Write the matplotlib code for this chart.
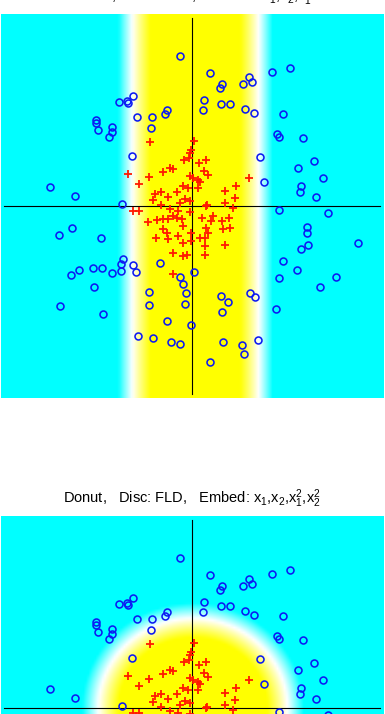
import numpy as np
import matplotlib
matplotlib.use("Agg")
import matplotlib.pyplot as plt
from matplotlib.colors import LinearSegmentedColormap

plt.rcParams['font.family'] = ['Liberation Sans', 'DejaVu Sans']
plt.rcParams['mathtext.fontset'] = 'custom'
plt.rcParams['mathtext.rm'] = 'Liberation Sans'
plt.rcParams['mathtext.it'] = 'Liberation Sans'
plt.rcParams['mathtext.bf'] = 'Liberation Sans:bold'

# ---- data: outer ring class (blue circles) ----
circ_x = [-0.12, -0.59, -0.65, -0.73, -0.64, -0.55, -0.40, -0.27, -0.25, -0.41,
          -0.96, -0.96, -0.94, -0.80, -0.80, -0.83, -0.60, -1.42, -1.17, 0.18,
          0.30, 0.28, 0.51, 0.57, 0.60, 0.80, 0.98, 0.12, 0.11, 0.29,
          0.38, 0.53, 0.62, 0.91, 0.85, 0.87, 1.11, 0.68, 1.22, 1.06,
          0.72, 1.31, 1.09, 1.08, 1.24, -0.70, -1.20, -1.33, -0.91, -0.69,
          -0.71, -0.71, -0.59, -0.56, -1.13, -1.21, -0.99, -0.90, -0.80, -0.98,
          -1.32, -0.89, -0.32, -0.12, -0.09, -0.06, -0.07, -0.43, -0.43, 0.02,
          -0.25, -0.01, -0.54, -0.39, -0.21, -0.12, 0.87, 1.36, 1.15, 1.15,
          1.16, 1.09, 1.66, 0.91, 1.05, 0.87, 1.44, 1.28, 0.84, 0.29,
          0.36, 0.30, 0.58, 0.63, 0.31, 0.50, 0.52, 0.66, 0.18]
circ_y = [1.50, 1.10, 1.05, 1.04, 1.03, 0.89, 0.89, 0.92, 0.96, 0.78,
          0.86, 0.83, 0.76, 0.79, 0.74, 0.69, 0.50, 0.19, 0.10, 1.33,
          1.22, 1.18, 1.22, 1.29, 1.24, 1.34, 1.38, 1.06, 0.96, 1.02,
          1.02, 0.97, 0.93, 0.92, 0.72, 0.69, 0.68, 0.49, 0.45, 0.38,
          0.24, 0.28, 0.20, 0.14, 0.09, 0.02, -0.22, -0.29, -0.32, -0.53,
          -0.58, -0.65, -0.59, -0.66, -0.64, -0.69, -0.62, -0.62, -0.67, -0.81,
          -1.00, -1.08, -0.57, -0.71, -0.78, -0.87, -0.98, -0.86, -0.99, -0.66,
          -1.15, -1.19, -1.30, -1.32, -1.36, -1.38, -0.04, -0.07, -0.21, -0.27,
          -0.39, -0.43, -0.37, -0.55, -0.64, -0.72, -0.71, -0.81, -1.03, -0.90,
          -0.96, -1.06, -0.87, -0.91, -1.36, -1.39, -1.48, -1.34, -1.56]

# ---- data: inner class (red crosses) ----
plus_x = [-0.42, 0.02, -0.01, -0.02, -0.03, -0.08, 0.07, 0.14, -0.29, -0.22,
          -0.19, -0.64, -0.43, -0.53, -0.02, 0.01, 0.06, 0.08, 0.12, 0.16,
          -0.09, -0.04, 0.06, -0.15, -0.37, -0.24, -0.39, -0.12, -0.07, -0.02,
          -0.31, 0.33, 0.44, 0.43, 0.57, 0.33, 0.14, 0.41, -0.59, -0.53,
          -0.44, -0.35, -0.29, -0.24, -0.22, -0.14, -0.19, -0.15, -0.10, -0.29,
          -0.25, -0.36, -0.24, -0.14, -0.09, -0.19, -0.09, -0.19, -0.02, 0.10,
          0.21, 0.19, 0.30, 0.37, 0.31, 0.38, 0.14, 0.16, 0.13, 0.08,
          -0.01, -0.09, -0.01, 0.13, -0.05, 0.13, 0.33, 0.15, -0.31]
plus_y = [0.64, 0.65, 0.56, 0.53, 0.48, 0.46, 0.43, 0.46, 0.34, 0.38,
          0.37, 0.32, 0.29, 0.22, 0.30, 0.28, 0.26, 0.24, 0.35, 0.31,
          0.20, 0.18, 0.18, 0.14, 0.12, 0.09, 0.06, 0.03, 0.07, 0.05,
          0.01, 0.15, 0.20, 0.08, 0.28, 0.03, 0.00, -0.02, -0.05, -0.05,
          -0.16, -0.14, -0.13, -0.13, -0.03, -0.05, -0.10, -0.12, -0.13, -0.23,
          -0.27, -0.32, -0.33, -0.30, -0.37, -0.47, -0.50, -0.68, -0.06, -0.12,
          -0.10, -0.15, -0.15, -0.12, -0.23, -0.22, -0.22, -0.27, -0.32, -0.32,
          -0.27, -0.20, -0.35, -0.40, -0.49, -0.49, -0.39, 0.01, 0.14]

titles = [r"Donut,   Disc: FLD,   Embed: $\mathrm{x_1}$,$\mathrm{x_2}$,$\mathrm{x_1^2}$",
          r"Donut,   Disc: FLD,   Embed: $\mathrm{x_1}$,$\mathrm{x_2}$,$\mathrm{x_1^2}$,$\mathrm{x_2^2}$"]

# discriminant parameters (read from the shaded regions)
band_center, band_half = 0.035, 0.635          # top: depends on x1 only
ell_cx, ell_cy, ell_ax, ell_ay = 0.01, 0.0, 0.95, 0.90   # bottom: ellipse

xlim = (-1.91, 1.92)
ylim = (-1.92, 1.92)
axis_len = 1.88

cmap = LinearSegmentedColormap.from_list("cwy", [(0, 1, 1), (1, 1, 1), (1, 1, 0)])

fig = plt.figure(figsize=(3.85, 7.14), dpi=100)
W, H = 385, 714
ax1 = fig.add_axes([1 / W, (H - 398) / H, 383 / W, 384 / H])
ax2 = fig.add_axes([1 / W, (H - 900) / H, 383 / W, 384 / H])

gx = np.linspace(xlim[0], xlim[1], 160)
gy = np.linspace(ylim[0], ylim[1], 160)
GX, GY = np.meshgrid(gx, gy)
f_top = 1 - ((GX - band_center) / band_half) ** 2
f_bot = 1 - ((GX - ell_cx) / ell_ax) ** 2 - ((GY - ell_cy) / ell_ay) ** 2
fields = [(f_top, 0.5), (f_bot, 0.38)]

for ax, (F, s) in zip([ax1, ax2], fields):
    ax.imshow(F, extent=[xlim[0], xlim[1], ylim[0], ylim[1]], origin='lower',
              cmap=cmap, vmin=-s, vmax=s, aspect='auto', interpolation='bilinear')
    ax.plot([-axis_len, axis_len], [0, 0], color='k', lw=0.8)
    ax.plot([0, 0], [-axis_len, axis_len], color='k', lw=0.8)
    ax.plot(plus_x, plus_y, linestyle='none', marker='+', color=(1, 0.1, 0),
            ms=5.5, mew=1.3)
    ax.plot(circ_x, circ_y, linestyle='none', marker='o', mfc='none',
            mec=(0.05, 0.1, 0.95), ms=5, mew=1.15)
    ax.set_xlim(*xlim)
    ax.set_ylim(*ylim)
    ax.axis('off')

fig.text(192 / W, 1 - 1 / H, titles[0], ha='center', va='baseline', fontsize=10.5)
fig.text(192 / W, 1 - 503 / H, titles[1], ha='center', va='baseline', fontsize=10.5)

fig.savefig("out.png", dpi=100)
